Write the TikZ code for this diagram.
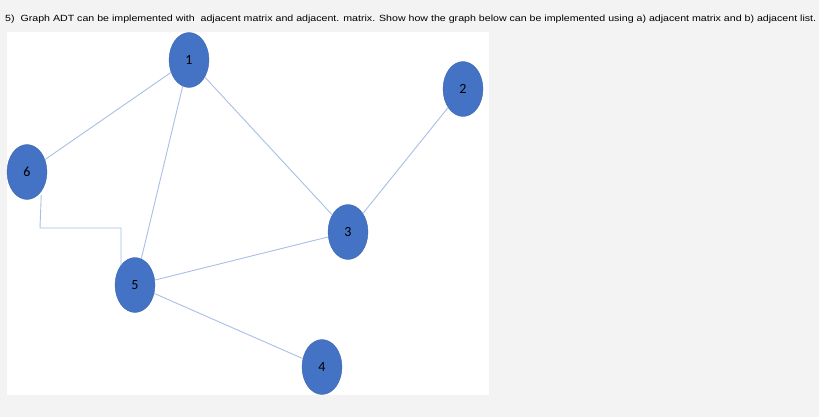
\documentclass[tikz,border=0pt]{standalone}
\usepackage{fontspec}
\setmainfont{Carlito}
\newfontfamily\titlefont{Liberation Sans}
\usetikzlibrary{shapes.geometric}
\definecolor{bg}{HTML}{F3F3F3}
\definecolor{nodeblue}{HTML}{4472C4}
\definecolor{edgeblue}{HTML}{A9BFE6}
\tikzset{
  vert/.style={ellipse,fill=nodeblue,draw=nodeblue!85!black,line width=0.3pt,minimum width=40pt,minimum height=55pt,inner sep=0pt,font=\fontsize{14}{14}\selectfont,text=black},
  edge/.style={draw=edgeblue,line width=0.9pt}
}
\begin{document}
\begin{tikzpicture}[x=1pt,y=-1pt]
\useasboundingbox (0,0) rectangle (819,417);
\fill[bg] (0,0) rectangle (819,417);
\fill[white] (7,32) rectangle (489,395);
\node[anchor=west,inner sep=0pt] (title) at (5,19) {\resizebox{811pt}{6.5pt}{\titlefont 5)\ \ Graph ADT can be implemented with\ \ adjacent matrix and adjacent. matrix. Show how the graph below can be implemented using a) adjacent matrix and b) adjacent list.}};
\node[vert] (n1) at (189,60) {1};
\node[vert] (n2) at (463,89) {2};
\node[vert] (n6) at (27,172) {6};
\node[vert] (n3) at (348,232) {3};
\node[vert] (n5) at (135,285) {5};
\node[vert] (n4) at (322,367) {4};
\coordinate (c1) at (40,228);
\coordinate (c2) at (121,228);
\begin{scope}[on background layer/.style={}]
\end{scope}
\path[edge] (n1) -- (n6);
\path[edge] (n1) -- (n5);
\path[edge] (n1) -- (n3);
\path[edge] (n2) -- (n3);
\path[edge] (n3) -- (n5);
\path[edge] (n5) -- (n4);
\path[edge] (n6.south east |- 40,195) -- (c1) -- (c2) -- (c2 |- n5.north west);
\end{tikzpicture}
\end{document}
